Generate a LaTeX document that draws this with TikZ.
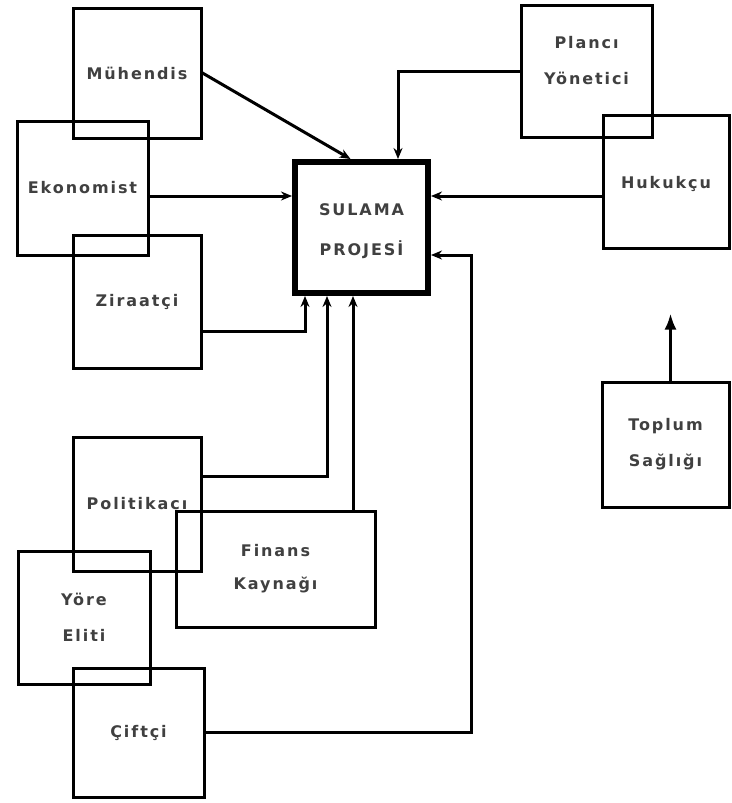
\documentclass[tikz,border=0pt]{standalone}
\usepackage{fontspec}
\usepackage{tikz}
\usetikzlibrary{arrows.meta}
\usetikzlibrary{positioning}
\newfontfamily\kutufont[LetterSpace=12]{DejaVu Sans Bold}
\tikzset{kutu/.style = {draw, line width = 3pt, align = center, inner sep = 0,
                        font = \kutufont\fontsize{16}{36}\selectfont, text = black!75}}
\tikzset{ok/.style = {line width = 3pt, -{Stealth[length = 11pt, width = 9pt]}}}

\begin{document}
\begin{tikzpicture}[x = 1pt, y = -1pt]
      \useasboundingbox (0, 0) rectangle (731, 803);

      % kutular
      \node [kutu, minimum width = 128, minimum height = 130] (muh) at (137, 73) {Mühendis};
      \node [kutu, minimum width = 131, minimum height = 134] (eko) at (82.5, 188) {Ekonomist};
      \node [kutu, minimum width = 128, minimum height = 133] (zir) at (137, 301.5) {Ziraatçi};
      \node [kutu, minimum width = 131, minimum height = 132, text depth = 21] (pla) at (586.5, 71) {Plancı\\Yönetici};
      \node [kutu, minimum width = 126, minimum height = 133, text height = 18] (huk) at (666, 181.5) {Hukukçu};
      \node [kutu, minimum width = 127, minimum height = 125] (top) at (665.5, 444.5) {Toplum\\Sağlığı};
      \node [kutu, minimum width = 128, minimum height = 134] (pol) at (137, 504) {Politikacı};
      \node [kutu, minimum width = 199, minimum height = 116] (fin) at (275.5, 569) {Finans\\[-3pt]Kaynağı};
      \node [kutu, minimum width = 132, minimum height = 133] (yor) at (84, 617.5) {Yöre\\Eliti};
      \node [kutu, minimum width = 131, minimum height = 129] (cif) at (138.5, 732.5) {Çiftçi};
      \node [kutu, line width = 6pt, minimum width = 133, minimum height = 131, text height = 60,
             font = \kutufont\fontsize{16}{40}\selectfont] (sul) at (361.5, 227.5) {SULAMA\\PROJESİ};

      % giris noktalari
      \coordinate (solgiris) at ([yshift = 31.5] sul.west);
      \coordinate (saggiris) at ([yshift = 31.5] sul.east);
      \coordinate (cifgiris) at ([yshift = -27.5] sul.east);
      \coordinate (toplumuc) at ([xshift = 5, yshift = 67] top.north);

      % oklar
      \draw [ok] (muh.east) -- ([xshift = -11] sul.north);
      \draw [ok] (pla.west) -| ([xshift = 36.5] sul.north);
      \draw [ok] (eko.east |- solgiris) -- (solgiris);
      \draw [ok] (huk.west |- saggiris) -- (saggiris);
      \draw [ok] ([yshift = -29.5] zir.east) -| ([xshift = -56.5] sul.south);
      \draw [ok] ([yshift = 28] pol.east) -| ([xshift = -34.5] sul.south);
      \draw [ok] ([xshift = 77.5] fin.north) -- ([xshift = 77.5] fin.north |- sul.south);
      \draw [ok] (cif.east) -| ([xshift = 40] cifgiris) -- (cifgiris);
      \draw [ok, -{Latex[length = 16pt, width = 12pt]}] (toplumuc |- top.north) -- (toplumuc);
\end{tikzpicture}
\end{document}
